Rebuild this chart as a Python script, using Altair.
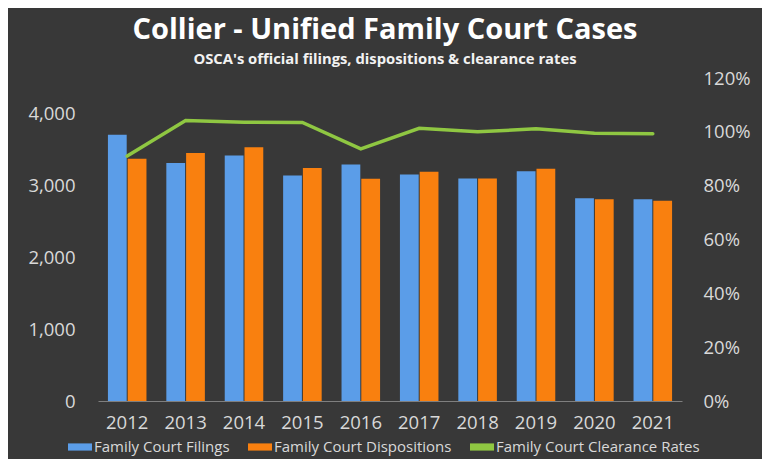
import altair as alt
import pandas as pd

years = ["2012", "2013", "2014", "2015", "2016", "2017", "2018", "2019", "2020", "2021"]
filings = [3710, 3315, 3420, 3140, 3295, 3155, 3100, 3200, 2825, 2810]
dispositions = [3375, 3455, 3535, 3245, 3095, 3195, 3100, 3235, 2810, 2790]
clearance = [0.910, 1.042, 1.036, 1.035, 0.937, 1.013, 1.000, 1.011, 0.995, 0.993]

series_names = ["Family Court Filings", "Family Court Dispositions", "Family Court Clearance Rates"]
series_colors = ["#5b9de8", "#f9800f", "#8fc742"]
left_ticks = [0, 1000, 2000, 3000, 4000]
right_ticks = [0, 0.2, 0.4, 0.6, 0.8, 1.0, 1.2]

bars_df = pd.DataFrame(
    {
        "year": years * 2,
        "series": [series_names[0]] * len(years) + [series_names[1]] * len(years),
        "value": filings + dispositions,
    }
)
line_df = pd.DataFrame({"year": years, "series": series_names[2], "rate": clearance})

FONT = "Open Sans"
LABEL_COLOR = "#d9d9d9"

color_scale = alt.Scale(domain=series_names, range=series_colors)

x_enc = alt.X(
    "year:N",
    sort=years,
    scale=alt.Scale(paddingInner=0.34, paddingOuter=0.17),
    axis=alt.Axis(
        title=None,
        labelAngle=0,
        ticks=False,
        tickSize=0,
        domain=True,
        domainColor="#7f7f7f",
        domainWidth=1.2,
        labelFont=FONT,
        labelFontSize=18.5,
        labelColor=LABEL_COLOR,
        labelPadding=12,
        grid=False,
        zindex=1,
    ),
)

bars = (
    alt.Chart(bars_df)
    .mark_bar()
    .encode(
        x=x_enc,
        xOffset=alt.XOffset("series:N", sort=series_names[:2], scale=alt.Scale(paddingInner=0.05)),
        y=alt.Y(
            "value:Q",
            scale=alt.Scale(domain=[0, 4500], nice=False),
            axis=alt.Axis(
                title=None,
                values=left_ticks,
                format=",.0f",
                ticks=False,
                tickSize=0,
                domain=False,
                grid=False,
                labelFont=FONT,
                labelFontSize=18.5,
                labelColor=LABEL_COLOR,
                labelPadding=23,
                zindex=1,
            ),
        ),
        color=alt.Color(
            "series:N",
            scale=color_scale,
            legend=alt.Legend(
                title=None,
                orient="none",
                direction="horizontal",
                legendX=-30,
                legendY=357,
                symbolType="M-1,-0.3H1V0.3H-1Z",
                symbolSize=576,
                symbolStrokeWidth=0,
                labelFont=FONT,
                labelFontSize=15,
                labelColor=LABEL_COLOR,
                labelOffset=2,
                columnPadding=18,
                labelLimit=400,
            ),
        ),
    )
)

line = (
    alt.Chart(line_df)
    .mark_line(strokeWidth=3.5, strokeCap="round")
    .encode(
        x=alt.X("year:N", sort=years),
        y=alt.Y(
            "rate:Q",
            scale=alt.Scale(domain=[0, 1.2], nice=False),
            axis=alt.Axis(
                title=None,
                orient="right",
                values=right_ticks,
                format=".0%",
                ticks=False,
                tickSize=0,
                domain=False,
                grid=False,
                labelFont=FONT,
                labelFontSize=18.5,
                labelColor=LABEL_COLOR,
                labelPadding=21,
                zindex=1,
            ),
        ),
        color=alt.Color("series:N", scale=color_scale, legend=None),
    )
)

chart = (
    alt.layer(bars, line)
    .resolve_scale(y="independent")
    .properties(
        width=584,
        height=323,
        autosize=alt.AutoSizeParams(type="none"),
        padding={"left": 90, "top": 70, "right": 80, "bottom": 58},
        background="#383838",
        title=alt.TitleParams(
            text="Collier - Unified Family Court Cases",
            subtitle="OSCA's official filings, dispositions & clearance rates",
            font=FONT,
            fontSize=29,
            fontWeight="bold",
            color="#ffffff",
            subtitleFont=FONT,
            subtitleFontSize=14.8,
            subtitleFontWeight="bold",
            subtitleColor="#f2f2f2",
            subtitlePadding=7,
            anchor="middle",
            frame="group",
            dx=-5,
            offset=2,
        ),
    )
    .configure_view(stroke=None)
)

chart.save("out.html", embed_options={"renderer": "svg", "actions": False})
